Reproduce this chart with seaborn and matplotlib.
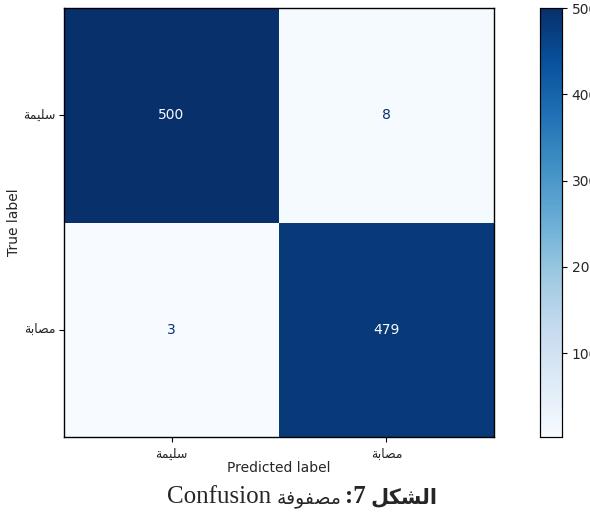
import numpy as np
import pandas as pd
import seaborn as sns
import matplotlib.pyplot as plt

# Class names (Arabic, written in presentation forms and visual order)
healthy = "\uFE94\uFEE4\uFEF4\uFEE0\uFEB3"    # سليمة
infected = "\uFE94\uFE91\uFE8E\uFEBC\uFEE3"   # مصابة
class_names = [healthy, infected]

# Confusion matrix counts: rows = true label, columns = predicted label
row_healthy = [500, 8]
row_infected = [3, 479]

cm = pd.DataFrame([row_healthy, row_infected], index=class_names, columns=class_names)

caption_word = "\uFE94\uFED3\uFEEE\uFED4\uFEBC\uFEE3"   # مصفوفة
caption_fig = "\uFEDE\uFEDC\uFEB8\uFEDF\uFE8D"          # الشكل

sns.set_style("white")
plt.rcParams['font.family'] = ['DejaVu Sans']

W, H = 590, 516
fig = plt.figure(figsize=(W / 100, H / 100), dpi=100)
ax = fig.add_axes([64 / W, (H - 437) / H, 430 / W, 429 / H])
cax = fig.add_axes([540 / W, (H - 437) / H, 22 / W, 429 / H])

cmap = plt.get_cmap("Blues")
vmin, vmax = cm.values.min(), cm.values.max()
sns.heatmap(cm, ax=ax, cbar_ax=cax, cmap=cmap, vmin=vmin, vmax=vmax,
            annot=False, square=False, linewidths=0)

# Cell values: light text on dark cells, dark text on light cells
thresh = (vmin + vmax) / 2
for i in range(cm.shape[0]):
    for j in range(cm.shape[1]):
        v = cm.values[i, j]
        color = cmap(0.0) if v > thresh else cmap(1.0)
        ax.text(j + 0.5, i + 0.5, f"{v}", ha="center", va="center",
                color=color, fontsize=10)

for s in ax.spines.values():
    s.set_visible(True)
    s.set_color("black")
    s.set_linewidth(1.0)

ax.set_xticks([0.5, 1.5])
ax.set_yticks([0.5, 1.5])
ax.set_xticklabels(class_names, fontsize=9, rotation=0)
ax.set_yticklabels(class_names, fontsize=9, rotation=0)
ax.tick_params(axis="both", which="both", length=3.5, width=0.8, color="black",
               left=True, bottom=True, direction="out")
ax.tick_params(axis="x", pad=4)
ax.tick_params(axis="y", pad=2.5)
ax.set_xlabel("Predicted label", fontsize=10)
ax.xaxis.set_label_coords(0.5, -0.056)
ax.set_ylabel("True label", fontsize=10)
ax.yaxis.set_label_coords(-0.1, 0.5)

cax.set_yticks([100, 200, 300, 400, 500])
cax.tick_params(axis="y", right=True, length=3.5, width=0.8, color="black",
                labelsize=10, direction="out")
for s in cax.spines.values():
    s.set_visible(True)
    s.set_color("black")
    s.set_linewidth(0.8)

# Figure caption below the chart, laid out right to left from its pieces
base_y = (H - 503) / H
serif = ["Liberation Serif", "DejaVu Sans"]
pieces = [
    (caption_fig, dict(fontsize=15, fontweight="bold", family="DejaVu Sans"), 5),
    (":7", dict(fontsize=18, fontweight="bold", family=serif), 4),
    (caption_word, dict(fontsize=13.5, family="DejaVu Sans"), 5),
    ("Confusion", dict(fontsize=18, family=serif), 0),
]
renderer = fig.canvas.get_renderer()
right_px = 438
for text, kw, gap in pieces:
    t = fig.text(right_px / W, base_y, text, ha="right", va="baseline", **kw)
    bb = t.get_window_extent(renderer=renderer)
    right_px = right_px - bb.width - gap

fig.savefig("out.png", dpi=100)
